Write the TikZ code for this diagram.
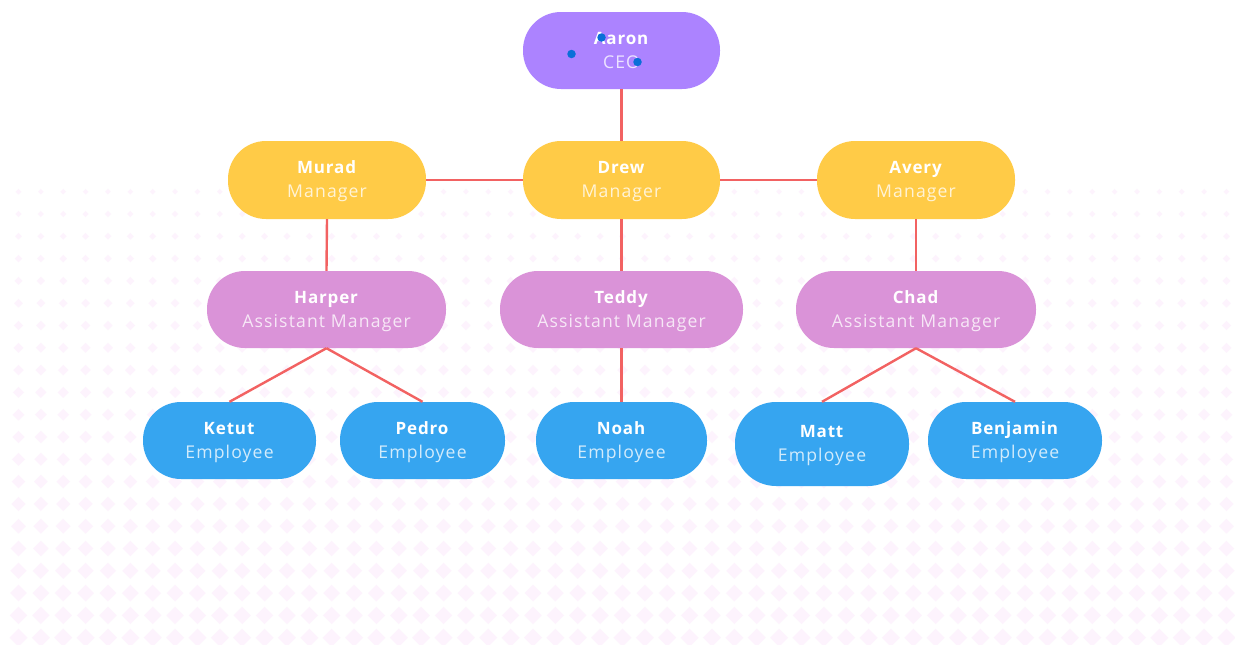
\documentclass[tikz,border=0pt]{standalone}
\usepackage{fontspec}
\setmainfont[LetterSpace=5]{Open Sans}
\newfontfamily\rolefont[LetterSpace=6.5]{Open Sans}
\definecolor{bgdot}{HTML}{FDF3FD}
\definecolor{cpurple}{HTML}{AC83FF}
\definecolor{cyellow}{HTML}{FFCB47}
\definecolor{cpink}{HTML}{DA93D8}
\definecolor{cblue}{HTML}{36A5F0}
\definecolor{cline}{HTML}{F26262}
\definecolor{cdot}{HTML}{0A6FD8}
\tikzset{
  pill/.style={rounded corners=38pt,inner sep=0pt,minimum height=77pt,align=center,text=white,
    font=\fontsize{17}{24}\selectfont},
  link/.style={draw=cline,line width=2.4pt},
  handle/.style={circle,fill=cdot,inner sep=0pt,minimum size=8.5pt},
}
\newcommand{\who}[2]{\rule[-7pt]{0pt}{25.5pt}\textbf{#1}\\\rule[-7pt]{0pt}{17.5pt}{\rolefont\fontsize{17.6}{24}\selectfont\pgfsetfillopacity{.78}#2}}
\begin{document}
\begin{tikzpicture}[x=1pt,y=-1pt]
\useasboundingbox (0,0) rectangle (1235,645);
\fill[white] (0,0) rectangle (1235,645);
\foreach \r in {0,...,20}{
  \foreach \c in {0,...,54}{
    \pgfmathsetmacro{\cx}{18.5+22.37*\c}
    \pgfmathsetmacro{\cy}{191.7+22.3*\r}
    \pgfmathsetmacro{\d}{2.8+0.31*\r}
    \fill[bgdot] (\cx-\d,\cy) -- (\cx,\cy-\d) -- (\cx+\d,\cy) -- (\cx,\cy+\d) -- cycle;
  }
}
\node[pill,fill=cpurple,minimum width=197pt] (aaron) at (621.5,50.5) {\who{Aaron}{CEO}};
\node[pill,fill=cyellow,minimum width=198pt,minimum height=78pt] (murad) at (327,180) {\who{Murad}{Manager}};
\node[pill,fill=cyellow,minimum width=197pt,minimum height=78pt] (drew) at (621.5,180) {\who{Drew}{Manager}};
\node[pill,fill=cyellow,minimum width=198pt,minimum height=78pt] (avery) at (916,180) {\who{Avery}{Manager}};
\node[pill,fill=cpink,minimum width=239pt] (harper) at (326.5,309.5) {\who{Harper}{Assistant Manager}};
\node[pill,fill=cpink,minimum width=243pt] (teddy) at (621.5,309.5) {\who{Teddy}{Assistant Manager}};
\node[pill,fill=cpink,minimum width=240pt] (chad) at (916,309.5) {\who{Chad}{Assistant Manager}};
\node[pill,fill=cblue,minimum width=173pt] (ketut) at (229.5,440.5) {\who{Ketut}{Employee}};
\node[pill,fill=cblue,minimum width=165pt] (pedro) at (422.5,440.5) {\who{Pedro}{Employee}};
\node[pill,fill=cblue,minimum width=171pt] (noah) at (621.5,440.5) {\who{Noah}{Employee}};
\node[pill,fill=cblue,minimum width=174pt,minimum height=84pt,rounded corners=41pt] (matt) at (822,444) {\who{Matt}{Employee}};
\node[pill,fill=cblue,minimum width=174pt] (benjamin) at (1015,440.5) {\who{Benjamin}{Employee}};
\draw[link] (aaron.south) -- (drew.north);
\draw[link] (drew.west) -- (murad.east);
\draw[link] (drew.east) -- (avery.west);
\draw[link] (murad.south) -- (harper.north);
\draw[link] (drew.south) -- (teddy.north);
\draw[link] (avery.south) -- (chad.north);
\draw[link] (harper.south) -- (ketut.north);
\draw[link] (harper.south) -- (pedro.north);
\draw[link] (teddy.south) -- (noah.north);
\draw[link] (chad.south) -- (matt.north);
\draw[link] (chad.south) -- (benjamin.north);
\node[handle] (h1) at (571.5,54) {};
\node[handle] (h2) at (601.5,37.5) {};
\node[handle] (h3) at (637.5,62) {};
\end{tikzpicture}
\end{document}
